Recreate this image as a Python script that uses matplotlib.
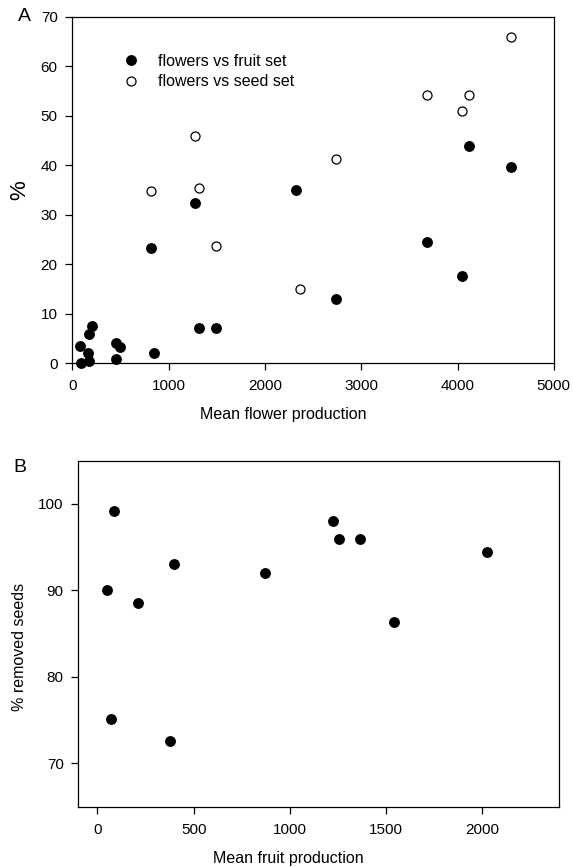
import numpy as np
import matplotlib
matplotlib.use("Agg")
import matplotlib.pyplot as plt

plt.rcParams['font.family'] = ['Liberation Sans', 'DejaVu Sans']

# --- Panel A : flowers vs fruit set / seed set ---
flowers_fruit = [815, 1275, 2325, 3680, 4048, 2734, 1320, 1487, 853, 201,
                 174, 80, 160, 174, 87, 454, 496, 454, 4120, 4560]
fruit_set = [23.2, 32.3, 34.9, 24.4, 17.6, 13.0, 7.1, 7.1, 2.1, 7.5,
             6.0, 3.5, 2.1, 0.5, 0.1, 4.0, 3.2, 0.8, 43.8, 39.7]

flowers_seed = [4560, 3680, 4120, 4048, 1275, 2734, 1320, 815, 1487, 2364]
seed_set = [65.9, 54.1, 54.1, 50.9, 45.9, 41.2, 35.3, 34.7, 23.7, 14.9]

# --- Panel B : fruit production vs removed seeds ---
fruit_prod = [87, 52, 70, 213, 399, 378, 873, 1223, 1258, 1366, 1541, 2027]
removed_seeds = [99.2, 90.0, 75.1, 88.5, 93.1, 72.6, 92.0, 98.0, 96.0, 96.0, 86.3, 94.5]

xticks_a = [0, 1000, 2000, 3000, 4000, 5000]
yticks_a = [0, 10, 20, 30, 40, 50, 60, 70]
xticks_b = [0, 500, 1000, 1500, 2000]
yticks_b = [70, 80, 90, 100]

fig = plt.figure(figsize=(5.73, 8.67), dpi=100)

# ---------------- panel A ----------------
ax1 = fig.add_axes([0.1262, 0.581, 0.8403, 0.3998])
ax1.plot(flowers_fruit, fruit_set, 'o', color='black', markersize=6.8,
         label='flowers vs fruit set', clip_on=False)
ax1.plot(flowers_seed, seed_set, 'o', markerfacecolor='white', markeredgecolor='black',
         markeredgewidth=0.9, markersize=6.5, label='flowers vs seed set', clip_on=False)
ax1.set_xlim(0, 5000)
ax1.set_ylim(0, 70)
ax1.set_xticks(xticks_a)
ax1.set_yticks(yticks_a)
ax1.set_xlabel('Mean flower production', fontsize=11.5)
ax1.xaxis.set_label_coords(0.438, -0.126)
ax1.set_ylabel('%', fontsize=16)
ax1.yaxis.set_label_coords(-0.088, 0.5)
ax1.legend(loc='upper left', bbox_to_anchor=(0.075, 0.911), frameon=False, fontsize=11.5,
           handletextpad=0.7, labelspacing=0.35, borderaxespad=0)
fig.text(0.0419, 0.9804, 'A', fontsize=14, ha='center', va='center')

# ---------------- panel B ----------------
ax2 = fig.add_axes([0.1366, 0.0695, 0.8389, 0.3991])
ax2.plot(fruit_prod, removed_seeds, 'o', color='black', markersize=6.8)
ax2.set_xlim(-100, 2400)
ax2.set_ylim(65, 105)
ax2.set_xticks(xticks_b)
ax2.set_yticks(yticks_b)
ax2.set_xlabel('Mean fruit production', fontsize=11.5)
ax2.xaxis.set_label_coords(0.436, -0.128)
ax2.set_ylabel('% removed seeds', fontsize=11.5)
ax2.yaxis.set_label_coords(-0.107, 0.463)
fig.text(0.034, 0.4608, 'B', fontsize=14, ha='center', va='center')

for ax in (ax1, ax2):
    for s in ax.spines.values():
        s.set_linewidth(0.9)
    ax.tick_params(direction='out', length=5, width=0.9, labelsize=11, top=False, right=False)
    ax.tick_params(axis='x', pad=6.5)
    ax.tick_params(axis='y', pad=5.5)

fig.savefig('out.png', dpi=100)
